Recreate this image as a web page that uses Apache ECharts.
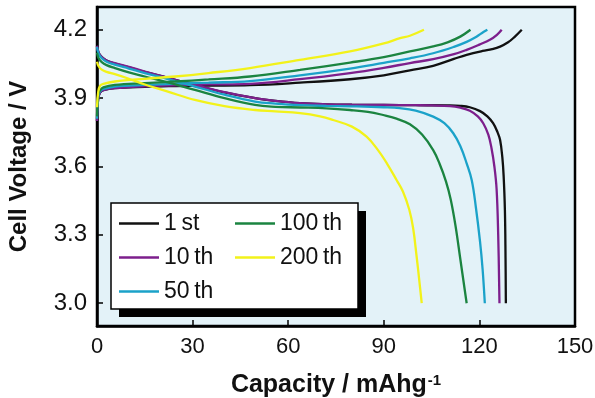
<!DOCTYPE html>
<html>
<head>
<meta charset="utf-8">
<script src="https://cdn.jsdelivr.net/npm/echarts@6/dist/echarts.min.js"></script>
<style>
  html, body { margin: 0; padding: 0; background: #fff; }
  #chart { width: 595px; height: 398px; }
</style>
</head>
<body>
<div id="chart"></div>
<script>
// Cycle labels and line colours
const cycles = ['1\u2009st', '10\u2009th', '50\u2009th', '100\u2009th', '200\u2009th'];
const colors = ['#111111', '#7d1f8c', '#1ba2c9', '#1b8440', '#f2f21a'];

// Tick values
const xTicks = [0, 30, 60, 90, 120, 150];
const yTicks = [3.0, 3.3, 3.6, 3.9, 4.2];

// Charge curves: [capacity (mAh/g), voltage (V)]
const charge1 = [[0,3.80],[0.4,3.90],[1,3.925],[2,3.935],[5.6,3.944],[15,3.95],[24.5,3.953],[35,3.955],[48,3.957],[63.7,3.968],[79.4,3.983],[90,4.0],[98.2,4.022],[105.5,4.042],[112,4.072],[116,4.09],[121,4.107],[124,4.115],[126.5,4.126],[129,4.145],[131,4.168],[133.3,4.2]];
const charge10 = [[0,3.80],[0.4,3.90],[1,3.925],[2,3.935],[5.6,3.944],[15,3.952],[24.5,3.956],[35,3.96],[48,3.963],[63.7,3.983],[79.4,4.01],[90,4.033],[98.2,4.054],[105.5,4.071],[112,4.093],[116,4.112],[120,4.135],[123.3,4.156],[125.5,4.178],[127,4.2]];
const charge50 = [[0,3.81],[0.4,3.91],[1,3.93],[2,3.94],[5.6,3.951],[15,3.958],[24.5,3.963],[35,3.968],[48,3.975],[63.7,4.0],[79.4,4.03],[90,4.055],[98.2,4.075],[105.5,4.097],[112,4.125],[116,4.147],[118.5,4.165],[120.7,4.185],[122.5,4.2]];
const charge100 = [[0,3.82],[0.4,3.915],[1,3.935],[2,3.947],[5.6,3.958],[15,3.966],[24.5,3.973],[35,3.982],[48,3.995],[63.7,4.024],[79.4,4.056],[90,4.08],[98.2,4.105],[105.5,4.127],[110,4.145],[114,4.17],[117.2,4.2]];
const charge200 = [[0,3.86],[0.4,3.93],[1,3.955],[2,3.963],[5.6,3.973],[15,3.985],[24.5,3.995],[35,4.01],[48,4.032],[63.7,4.068],[79.4,4.105],[90,4.14],[95.1,4.163],[98.2,4.174],[102.6,4.2]];

// Discharge curves: [capacity (mAh/g), voltage (V)]
const discharge1 = [[0,4.13],[0.5,4.10],[1.5,4.08],[3,4.065],[5.6,4.052],[10,4.035],[15,4.015],[22,3.99],[30.7,3.958],[40,3.925],[49.6,3.9],[56,3.888],[63.7,3.878],[72,3.873],[80,3.871],[90,3.87],[100,3.869],[110,3.868],[114,3.866],[117,3.86],[120.2,3.843],[122.5,3.82],[124.3,3.79],[125.7,3.75],[126.5,3.716],[127.2,3.64],[127.6,3.56],[128,3.41],[128.2,3.2],[128.3,3.0]];
const discharge10 = [[0,4.13],[0.5,4.10],[1.5,4.08],[3,4.065],[5.6,4.054],[10,4.037],[15,4.017],[22,3.99],[30.7,3.958],[40,3.926],[49.6,3.9],[56,3.888],[63.7,3.878],[72,3.873],[80,3.871],[90,3.87],[100,3.869],[105,3.868],[110.8,3.865],[114,3.858],[117,3.845],[119.5,3.82],[121.2,3.79],[122.8,3.74],[123.8,3.68],[124.7,3.6],[125.4,3.5],[125.9,3.3],[126.3,3.0]];
const discharge50 = [[0,4.125],[0.5,4.095],[1.5,4.075],[3,4.06],[5.6,4.047],[10,4.03],[15,4.01],[22,3.985],[30.7,3.951],[40,3.915],[49.6,3.885],[56,3.876],[63.7,3.869],[72,3.866],[80,3.864],[90,3.86],[95,3.856],[100,3.845],[105.5,3.819],[109,3.79],[111.8,3.746],[114,3.69],[116,3.614],[117.6,3.54],[118.9,3.42],[120.2,3.27],[121,3.15],[121.7,3.0]];
const discharge100 = [[0,4.10],[0.5,4.075],[1.5,4.058],[3,4.045],[5.6,4.032],[10,4.013],[15,3.995],[22,3.97],[30.7,3.936],[40,3.9],[49.6,3.87],[56,3.862],[63.7,3.859],[72,3.855],[79.4,3.848],[85,3.84],[89.8,3.826],[94,3.81],[98.2,3.785],[102,3.74],[105.5,3.672],[107.5,3.612],[109.5,3.535],[111,3.455],[112.5,3.34],[114,3.195],[116,3.0]];
const discharge200 = [[0,4.06],[0.5,4.04],[1.5,4.025],[3,4.015],[5.6,4.005],[10,3.985],[15,3.96],[22,3.93],[30.7,3.892],[40,3.865],[49.6,3.848],[56,3.842],[63.7,3.834],[70,3.82],[74.1,3.804],[80,3.775],[84.6,3.731],[88,3.675],[91,3.613],[94,3.541],[96,3.49],[98,3.41],[99.2,3.33],[100.3,3.205],[101.1,3.105],[101.9,3.0]];

const chargeSets = [charge1, charge10, charge50, charge100, charge200];
const dischargeSets = [discharge1, discharge10, discharge50, discharge100, discharge200];

const FONT = '"Liberation Sans", Arial, Helvetica, sans-serif';

function curve(name, color, data) {
  return {
    type: 'line',
    name: name,
    data: data,
    symbol: 'none',
    smooth: 0.4,
    lineStyle: { color: color, width: 2.3 },
    itemStyle: { color: color },
    z: 2
  };
}

const series = [];
cycles.forEach(function (c, i) {
  series.push(curve(c, colors[i], chargeSets[i]));
  series.push(curve(c, colors[i], dischargeSets[i]));
});

const legendText = { fontFamily: FONT, fontSize: 23, color: '#111', lineHeight: 22 };

function legendBlock(names, left) {
  return {
    data: names,
    orient: 'vertical',
    left: left, top: 212,
    padding: 0,
    icon: 'rect',
    itemWidth: 40, itemHeight: 2.5, itemGap: 11,
    textStyle: legendText,
    z: 5
  };
}

const chart = echarts.init(document.getElementById('chart'), null, { renderer: 'canvas' });
chart.setOption({
  animation: false,
  backgroundColor: '#ffffff',
  grid: {
    left: 97, right: 20, top: 7, bottom: 72,
    outerBoundsMode: 'none',
    containLabel: false,
    show: true,
    backgroundColor: '#e3f2f8',
    borderColor: '#000',
    borderWidth: 2.5
  },
  xAxis: {
    type: 'value',
    min: 0, max: 150, interval: 30,
    name: '{t|Capacity / mAhg}{s|-1}',
    nameLocation: 'middle',
    nameGap: 47,
    nameTextStyle: {
      rich: {
        t: { fontFamily: FONT, fontSize: 25, fontWeight: 'bold', color: '#111' },
        s: { fontFamily: FONT, fontSize: 15, fontWeight: 'bold', color: '#111', verticalAlign: 'top', padding: [0, 0, 10, 1] }
      }
    },
    axisLine: { lineStyle: { color: '#000', width: 2.5 } },
    axisTick: { inside: true, length: 6, lineStyle: { color: '#000', width: 1.5 } },
    axisLabel: {
      fontFamily: FONT, fontSize: 22, color: '#111', margin: 10,
      customValues: xTicks
    },
    splitLine: { show: false }
  },
  yAxis: {
    type: 'value',
    min: 2.9, max: 4.3,
    name: 'Cell Voltage / V',
    nameLocation: 'middle',
    nameGap: 66,
    nameRotate: 90,
    nameTextStyle: { fontFamily: FONT, fontSize: 24, fontWeight: 'bold', color: '#111' },
    axisLine: { lineStyle: { color: '#000', width: 2.5 } },
    axisTick: { inside: true, length: 6, lineStyle: { color: '#000', width: 1.5 }, customValues: yTicks },
    axisLabel: {
      fontFamily: FONT, fontSize: 24, color: '#111', margin: 10,
      customValues: yTicks,
      formatter: function (v) { return v.toFixed(1); }
    },
    splitLine: { show: false }
  },
  graphic: [
    { type: 'rect', z: 3, shape: { x: 119, y: 211, width: 247, height: 106 }, style: { fill: '#000' } },
    { type: 'rect', z: 3, shape: { x: 111, y: 203, width: 247, height: 106 }, style: { fill: '#fff', stroke: '#000', lineWidth: 1.5 } }
  ],
  legend: [
    legendBlock(cycles.slice(0, 3), 119),
    legendBlock(cycles.slice(3), 235)
  ],
  series: series
});
</script>
</body>
</html>
